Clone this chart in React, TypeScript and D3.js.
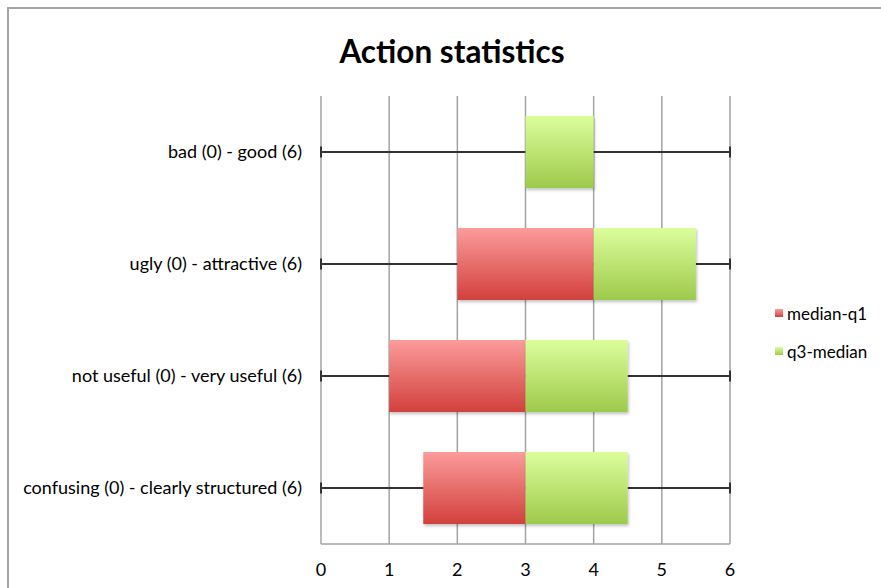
import React from "react";
import * as d3 from "d3";

const categories = [
  "bad (0) - good (6)",
  "ugly (0) - attractive (6)",
  "not useful (0) - very useful (6)",
  "confusing (0) - clearly structured (6)",
];
const q1Values = [3, 2, 1, 1.5];
const medianMinusQ1 = [0, 2, 2, 1.5];
const q3MinusMedian = [1, 1.5, 1.5, 1.5];
const minValues = [0, 0, 0, 0];
const maxValues = [6, 6, 6, 6];
const seriesNames = ["median-q1", "q3-median"];
const xTicks = [0, 1, 2, 3, 4, 5, 6];

const W = 881;
const H = 588;
const FONT = "Lato, 'Open Sans', sans-serif";

export default function App() {
  const x = d3.scaleLinear().domain([0, 6]).range([321, 730]);
  const y = d3
    .scaleBand<string>()
    .domain(categories)
    .range([96, 544])
    .paddingInner(0.357)
    .paddingOuter(0.1785);
  const bw = y.bandwidth();

  const rows = categories.map((c, i) => ({
    cat: c,
    base: q1Values[i],
    a: medianMinusQ1[i],
    b: q3MinusMedian[i],
    min: minValues[i],
    max: maxValues[i],
  }));
  const stack = d3.stack<any>().keys(["base", "a", "b"]);
  const stacked = stack(rows);

  const fills = ["none", "url(#gradRed)", "url(#gradGreen)"];

  return (
    <svg
      width={W}
      height={H}
      style={{ position: "absolute", left: 0, top: 0, background: "#fff" }}
      fontFamily={FONT}
    >
      <defs>
        <linearGradient id="gradRed" x1="0" y1="0" x2="0" y2="1">
          <stop offset="0%" stopColor="#fb9c9b" />
          <stop offset="100%" stopColor="#d2403c" />
        </linearGradient>
        <linearGradient id="gradGreen" x1="0" y1="0" x2="0" y2="1">
          <stop offset="0%" stopColor="#dcfe9c" />
          <stop offset="100%" stopColor="#9dca4b" />
        </linearGradient>
        <filter id="shadow" x="-10%" y="-10%" width="130%" height="140%">
          <feDropShadow dx="1" dy="2" stdDeviation="1.5" floodColor="#000" floodOpacity="0.25" />
        </filter>
      </defs>

      {/* chart border */}
      <rect x={8} y={8} width={W + 10} height={H + 10} fill="#fff" stroke="#a6a6a6" strokeWidth={2} />

      {/* title */}
      <text x={452} y={63} textAnchor="middle" fontSize={31.5} fontWeight="bold" fill="#000">
        Action statistics
      </text>

      {/* gridlines */}
      {xTicks.map((t) => (
        <line key={"g" + t} x1={x(t)} x2={x(t)} y1={96} y2={544} stroke="#a3a3a3" strokeWidth={1.5} />
      ))}
      <line x1={x(0)} x2={x(6)} y1={544} y2={544} stroke="#a3a3a3" strokeWidth={1.5} />

      {/* whiskers */}
      {rows.map((r) => {
        const cy = (y(r.cat) as number) + bw / 2;
        return (
          <g key={"w" + r.cat}>
            <line x1={x(r.min)} x2={x(r.max)} y1={cy} y2={cy} stroke="#333" strokeWidth={2} />
            <line x1={x(r.min)} x2={x(r.min)} y1={cy - 5.5} y2={cy + 5.5} stroke="#333" strokeWidth={2} />
            <line x1={x(r.max)} x2={x(r.max)} y1={cy - 5.5} y2={cy + 5.5} stroke="#333" strokeWidth={2} />
          </g>
        );
      })}

      {/* bars */}
      {stacked.map((s, si) =>
        si === 0
          ? null
          : s.map((d, i) => {
              const w = x(d[1]) - x(d[0]);
              if (w <= 0) return null;
              return (
                <rect
                  key={si + "-" + i}
                  x={x(d[0])}
                  y={y(categories[i]) as number}
                  width={w}
                  height={bw}
                  fill={fills[si]}
                  filter="url(#shadow)"
                />
              );
            })
      )}

      {/* category labels */}
      {categories.map((c) => (
        <text
          key={"l" + c}
          x={302}
          y={(y(c) as number) + bw / 2}
          dy="0.35em"
          textAnchor="end"
          fontSize={18}
          fill="#000"
        >
          {c}
        </text>
      ))}

      {/* x tick labels */}
      {xTicks.map((t) => (
        <text key={"t" + t} x={x(t)} y={576} textAnchor="middle" fontSize={18} fill="#000">
          {t}
        </text>
      ))}

      {/* legend */}
      {seriesNames.map((n, i) => (
        <g key={"lg" + n} transform={`translate(775, ${309 + i * 38})`}>
          <rect x={0} y={0} width={8} height={8} fill={i === 0 ? "url(#gradRed)" : "url(#gradGreen)"} />
          <text x={12} y={5} dy="0.35em" fontSize={17} fill="#000">
            {n}
          </text>
        </g>
      ))}
    </svg>
  );
}
